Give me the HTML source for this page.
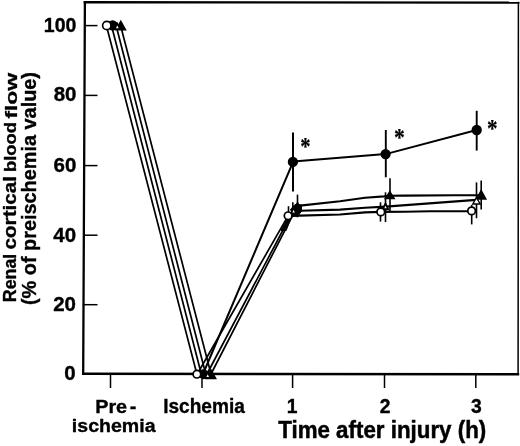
<!DOCTYPE html>
<html>
<head>
<meta charset="utf-8">
<title>Renal cortical blood flow</title>
<style>
html,body{margin:0;padding:0;background:#fff;}
svg{display:block;}
text{font-family:"Liberation Sans",sans-serif;font-weight:bold;fill:#000;stroke:#000;stroke-width:0.35px;}
.ast{font-family:"Liberation Serif",serif;font-weight:bold;stroke-width:0.2px;}
</style>
</head>
<body>
<svg width="520" height="446" viewBox="0 0 520 446">
<rect width="520" height="446" fill="#fff"/>
<!-- frame -->
<g stroke="#000" fill="none" stroke-linecap="square">
<line x1="84.9" y1="2.2" x2="518.3" y2="2.6" stroke-width="2.4"/>
<line x1="84.9" y1="2.1" x2="83.2" y2="373.7" stroke-width="2.3"/>
<line x1="83.2" y1="373.7" x2="518" y2="374.3" stroke-width="2.4"/>
<line x1="518.4" y1="2.5" x2="518.1" y2="374.3" stroke-width="1.5"/>
</g>
<!-- y ticks -->
<g stroke="#000" stroke-width="1.5">
<line x1="85" y1="25.6" x2="97.5" y2="25.6"/>
<line x1="85" y1="95.4" x2="97.5" y2="95.4"/>
<line x1="84" y1="165.6" x2="97.5" y2="165.6"/>
<line x1="84" y1="235.2" x2="97.5" y2="235.2"/>
<line x1="84" y1="304.7" x2="97.5" y2="304.7"/>
</g>
<!-- x ticks -->
<g stroke="#000" stroke-width="1.5">
<line x1="110.5" y1="374" x2="110.5" y2="388"/>
<line x1="202" y1="374" x2="202" y2="388"/>
<line x1="292.6" y1="374" x2="292.6" y2="388"/>
<line x1="384.5" y1="374" x2="384.5" y2="388"/>
<line x1="475.8" y1="374" x2="475.8" y2="388"/>
</g>
<!-- y labels -->
<g font-size="19.5" text-anchor="end">
<text transform="translate(76.4,31.5) scale(1.0,1)">100</text>
<text transform="translate(76.4,101.3) scale(1.05,1)">80</text>
<text transform="translate(76.3,171.8) scale(1.05,1)">60</text>
<text transform="translate(76.1,241.9) scale(1.05,1)">40</text>
<text transform="translate(75.9,311) scale(1.05,1)">20</text>
<text transform="translate(75.7,380) scale(1.05,1)">0</text>
</g>
<!-- y title -->
<g font-size="19">
<text transform="translate(15.9,302.2) rotate(-90) scale(1,1.0)" textLength="48.5" lengthAdjust="spacingAndGlyphs">Renal</text>
<text transform="translate(15.9,249.5) rotate(-90) scale(1,0.95)" textLength="73.5" lengthAdjust="spacingAndGlyphs">cortical</text>
<text transform="translate(16.3,172) rotate(-90) scale(1,0.9)" textLength="50" lengthAdjust="spacingAndGlyphs">blood</text>
<text transform="translate(16.8,118.8) rotate(-90) scale(1,0.84)" textLength="46" lengthAdjust="spacingAndGlyphs">flow</text>
<text transform="translate(36,305) rotate(-90) scale(1,1.04)" textLength="233" lengthAdjust="spacingAndGlyphs">(% of preischemia value)</text>
</g>
<!-- x labels -->
<g font-size="19" text-anchor="middle">
<text transform="translate(115.8,412.6) scale(1.04,1)" word-spacing="-2.6">Pre -</text>
<text transform="translate(113.7,432.3) scale(1.03,1)">ischemia</text>
</g>
<text transform="translate(204,413.3) scale(0.955,1)" font-size="20" text-anchor="middle">Ischemia</text>
<g font-size="19.3" text-anchor="middle">
<text x="292.1" y="413.4">1</text>
<text x="385" y="413.4">2</text>
<text x="476.3" y="413.4">3</text>
</g>
<text transform="translate(278.2,438.2) scale(1.006,1.045)" font-size="22.2" style="stroke-width:0.45px">Time after injury (h)</text>
<!-- data lines -->
<g stroke="#000" stroke-width="1.7" fill="none" stroke-linejoin="round" stroke-linecap="round">
<line x1="106.5" y1="26" x2="197" y2="374.5"/>
<line x1="111.6" y1="26" x2="201.3" y2="374"/>
<line x1="116.2" y1="26" x2="205.7" y2="374"/>
<line x1="120.7" y1="26" x2="211" y2="374"/>
<line x1="197" y1="374.5" x2="288.2" y2="215.7"/>
<line x1="203" y1="374" x2="293.2" y2="161.6" stroke-width="2"/>
<line x1="207" y1="374" x2="293.3" y2="210.5"/>
<line x1="211" y1="374" x2="297.2" y2="206.5"/>
<polyline points="293.2,161.6 385.6,154.1 476.7,130" stroke-width="2"/>
</g>
<g stroke="#000" stroke-width="2.1" fill="none" stroke-linejoin="round" stroke-linecap="round">
<polyline points="288.1,215.8 300,215.6 340,214.5 365,212.4 380.8,211.9 405,211.8 430,211.2 455,211.3 471.7,211.2"/>
<polyline points="293.4,210.9 300,210.8 340,209.6 365,207.7 385.6,206.6 476.3,199.9"/>
<polyline points="297.5,206 300,205.6 340,201.2 365,197.8 384,196.4 390,195.8 405,195.6 455,195.2 481.2,195.2"/>
</g>
<!-- ink merge near 1h -->
<g fill="#000" stroke="#000" stroke-width="1" stroke-linejoin="round">
<polygon points="281,230.5 287,219 290.5,219 286.2,230.5"/>
<polygon points="290.5,209.5 295,204.5 301.5,205 301.5,211 298,216 291,216.5 292.2,213"/>
</g>
<!-- error bars -->
<g stroke="#000" stroke-width="1.6">
<line x1="293" y1="132.4" x2="293" y2="191.5" stroke-width="2"/>
<line x1="385.8" y1="130" x2="385.8" y2="177.3" stroke-width="1.9"/>
<line x1="476.7" y1="110.8" x2="476.7" y2="150.6" stroke-width="1.9"/>
<line x1="297.5" y1="194.6" x2="297.5" y2="217.3"/>
<line x1="292.8" y1="202.3" x2="292.8" y2="210"/>
<line x1="288.5" y1="206.2" x2="288.5" y2="213"/>
<line x1="390" y1="178.3" x2="390" y2="211.5"/>
<line x1="385.5" y1="192.3" x2="385.5" y2="222"/>
<line x1="380.5" y1="202.3" x2="380.5" y2="221.6"/>
<line x1="481.2" y1="180.6" x2="481.2" y2="209.6"/>
<line x1="476.5" y1="182.4" x2="476.5" y2="218.2"/>
<line x1="471.7" y1="205" x2="471.7" y2="224.4"/>
</g>
<!-- markers -->
<g stroke="#000" stroke-width="1.5">
<!-- filled triangles -->
<g fill="#000" stroke-linejoin="miter">
<polygon points="120.8,21.3 125.5,29.8 116.1,29.8"/>
<polygon points="211,370 215.7,378.5 206.3,378.5"/>
<polygon points="297.5,202.5 301.3,209.8 293.7,209.8"/>
<polygon points="389.8,191.6 394.2,198.5 385.4,198.5"/>
<polygon points="481.2,190.6 485.8,199 476.6,199"/>
</g>
<!-- filled circles -->
<g fill="#000">
<circle cx="112.6" cy="25.4" r="4.5"/>
<circle cx="203.5" cy="374.3" r="4.2"/>
<circle cx="292.9" cy="161.9" r="4.4"/>
<circle cx="385.6" cy="154.1" r="4.4"/>
<circle cx="476.7" cy="130" r="4.4"/>
</g>
<!-- open triangles -->
<g fill="#fff" stroke-width="1.7" stroke-linejoin="miter">
<polygon points="117.3,23.6 120.1,29.2 114.5,29.2"/>
<polygon points="207.7,372.4 210.4,377.8 205,377.8"/>
<polygon points="293.6,208 296.2,213.4 291,213.4"/>
<polygon points="385.5,203.6 388.2,209.2 382.8,209.2" stroke-width="1.9"/>
<polygon points="476.5,197.6 480.2,204 472.8,204" stroke-width="1.4"/>
</g>
<!-- open circles -->
<g fill="#fff" stroke-width="1.7">
<circle cx="106.8" cy="25.5" r="4.2"/>
<circle cx="196.9" cy="374.2" r="3.8"/>
<circle cx="288.1" cy="215.8" r="3.8"/>
<circle cx="380.8" cy="211.9" r="3.8"/>
<circle cx="471.6" cy="210.9" r="3.8"/>
</g>
</g>
<!-- asterisks -->
<g font-size="24" text-anchor="middle">
<text class="ast" transform="translate(305.3,143.9) scale(0.86,1.04)" y="10.7">*</text>
<text class="ast" transform="translate(399.5,134.7) scale(0.9,1.04)" y="10.7">*</text>
<text class="ast" transform="translate(492.2,125.7) scale(0.88,1.02)" y="10.7">*</text>
</g>
</svg>
</body>
</html>
